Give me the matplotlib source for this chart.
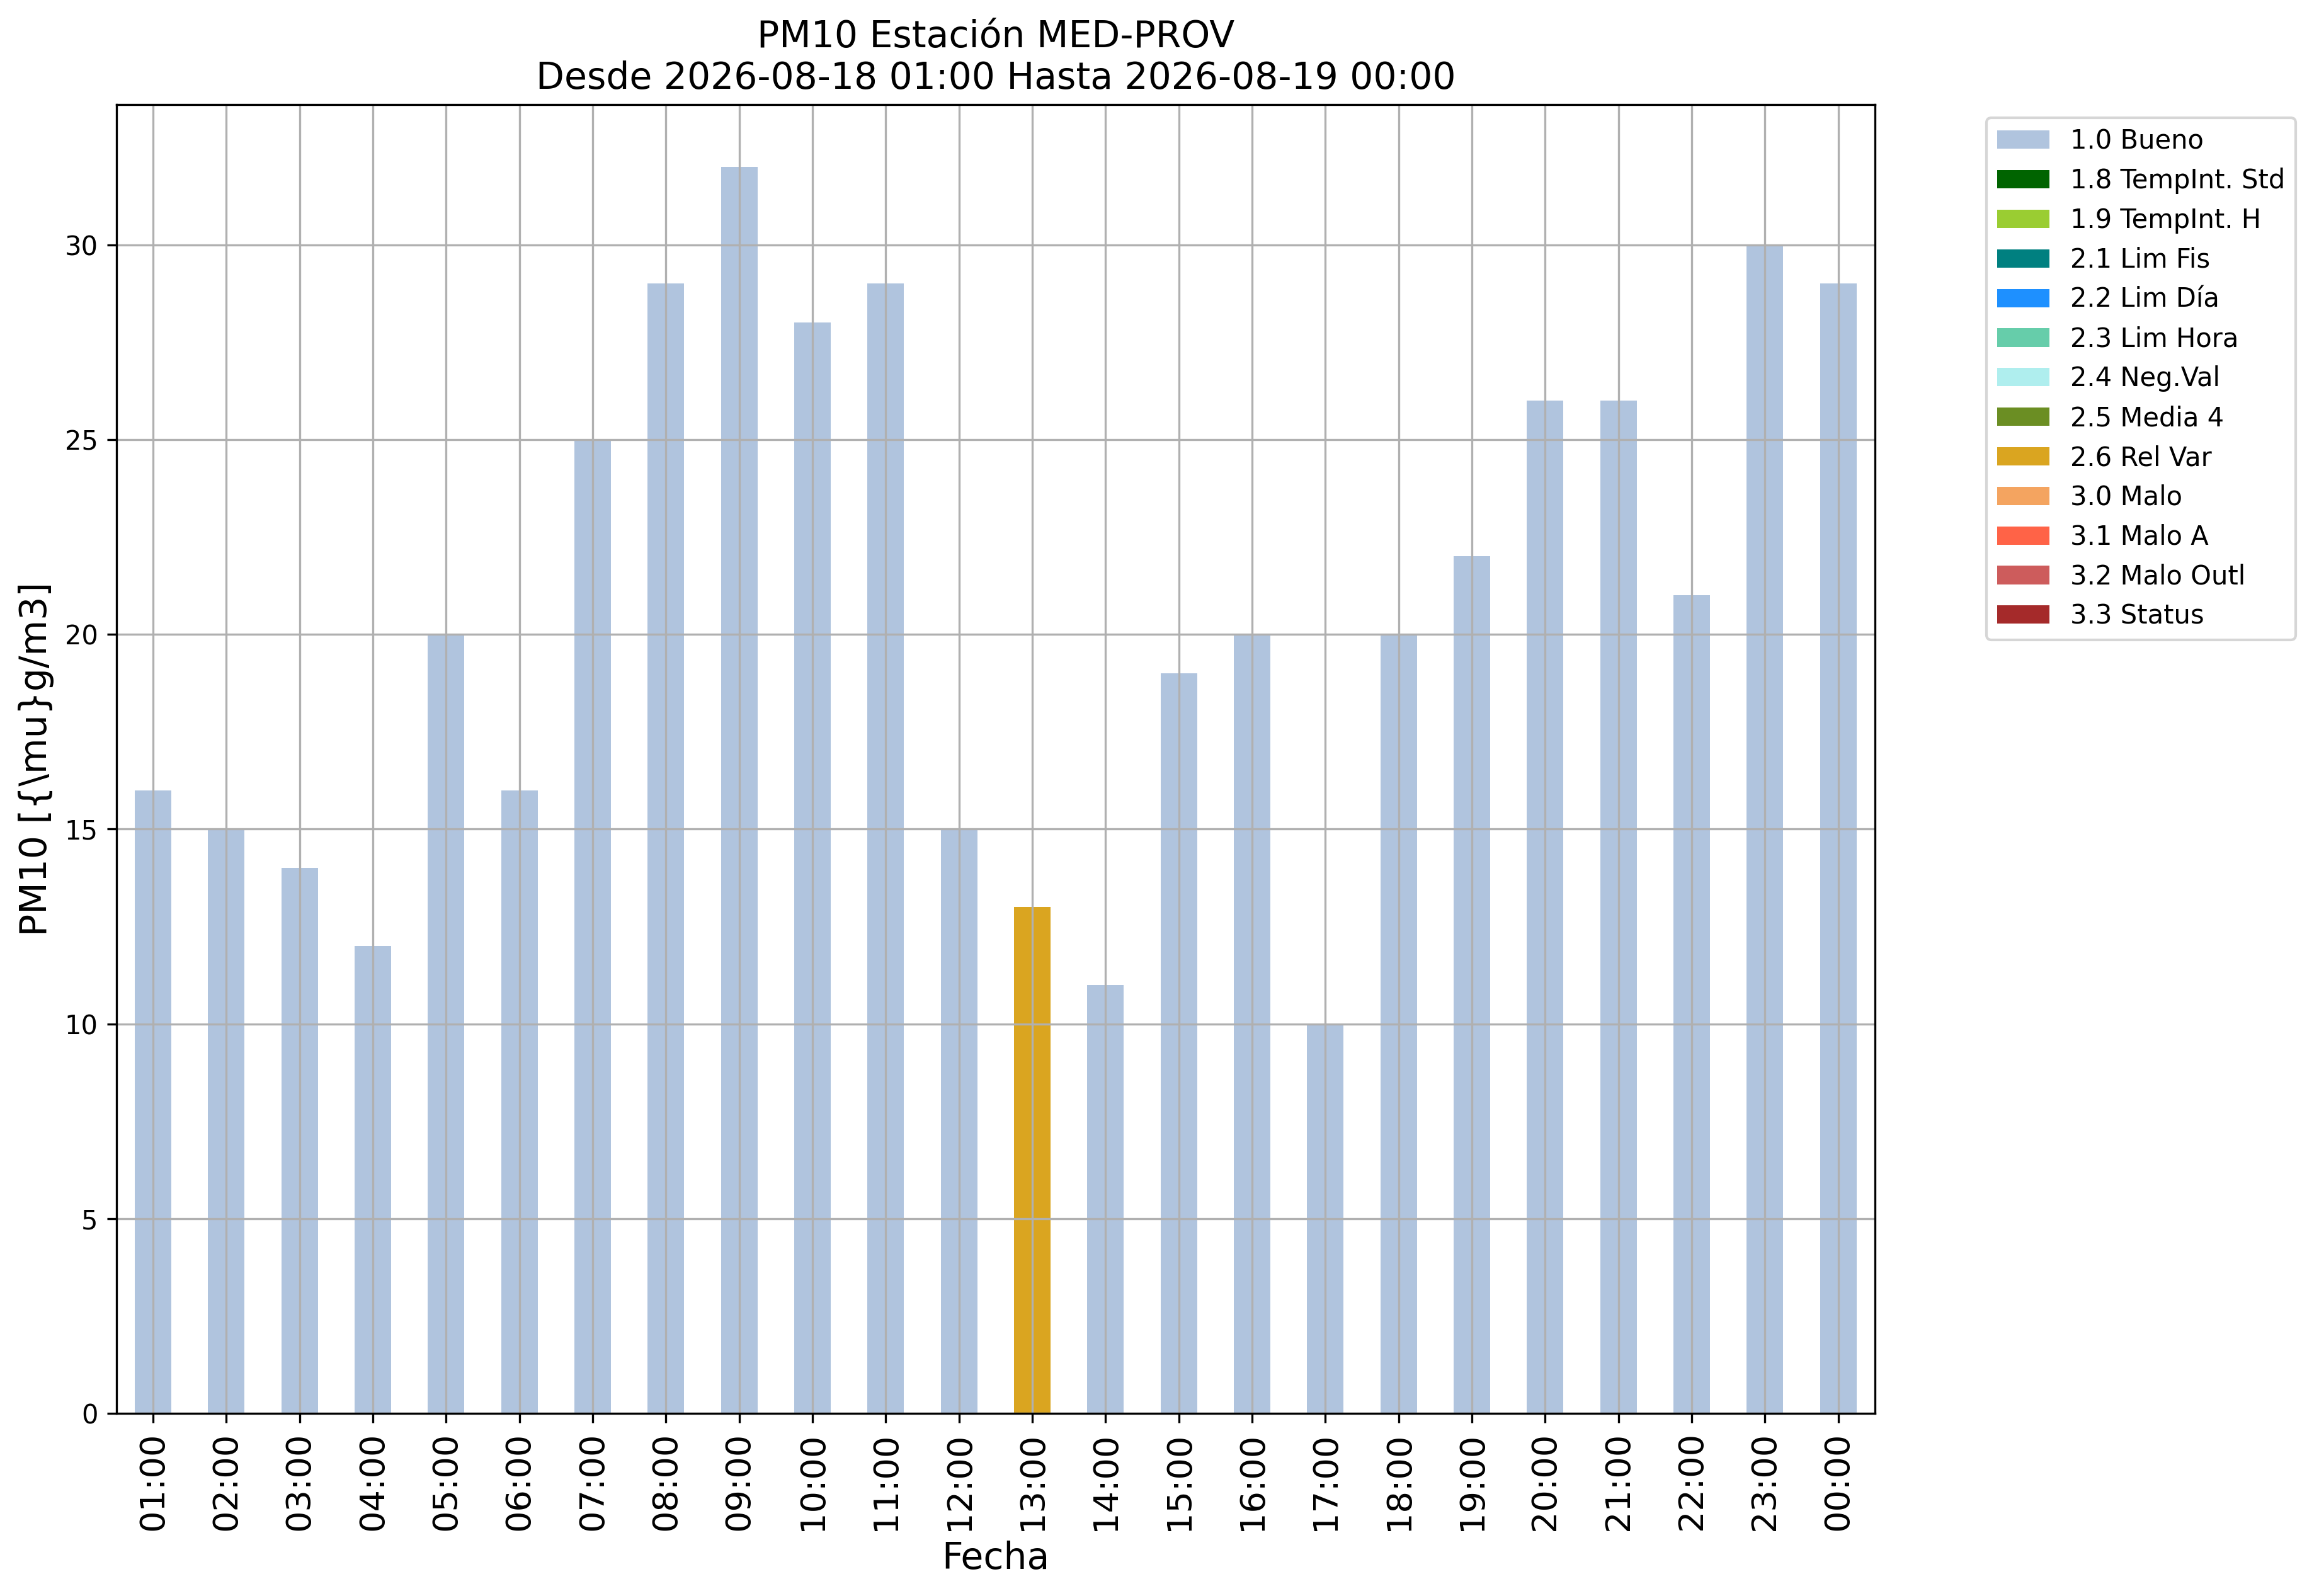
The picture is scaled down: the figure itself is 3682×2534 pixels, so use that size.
import matplotlib
matplotlib.use('Agg')
import matplotlib.pyplot as plt
import numpy as np
import pandas as pd

# Hourly labels and PM10 values
horas = ['01:00', '02:00', '03:00', '04:00', '05:00', '06:00', '07:00', '08:00',
         '09:00', '10:00', '11:00', '12:00', '13:00', '14:00', '15:00', '16:00',
         '17:00', '18:00', '19:00', '20:00', '21:00', '22:00', '23:00', '00:00']
pm10 = [16, 15, 14, 12, 20, 16, 25, 29, 32, 28, 29, 15,
        13, 11, 19, 20, 10, 20, 22, 26, 26, 21, 30, 29]
# validation flag for each hour
flags = ['1.0 Bueno'] * 12 + ['2.6 Rel Var'] + ['1.0 Bueno'] * 11

categorias = ['1.0 Bueno', '1.8 TempInt. Std', '1.9 TempInt. H', '2.1 Lim Fis',
              '2.2 Lim Día', '2.3 Lim Hora', '2.4 Neg.Val', '2.5 Media 4',
              '2.6 Rel Var', '3.0 Malo', '3.1 Malo A', '3.2 Malo Outl', '3.3 Status']
colores = ['lightsteelblue', 'darkgreen', 'yellowgreen', 'teal', 'dodgerblue',
           'mediumaquamarine', 'paleturquoise', 'olivedrab', 'goldenrod',
           'sandybrown', 'tomato', 'indianred', 'brown']


def main():
    df = pd.DataFrame(np.nan, index=horas, columns=categorias)
    for h, v, f in zip(horas, pm10, flags):
        df.loc[h, f] = v

    fig = plt.figure(figsize=(3682 / 300, 2534 / 300), dpi=300)
    ax = fig.add_axes([0.0502, 0.1144, 0.7583, 0.8201])
    df.plot(kind='bar', stacked=True, color=colores, ax=ax, legend=False)

    ax.set_title('PM10 Estación MED-PROV\nDesde 2026-08-18 01:00 Hasta 2026-08-19 00:00',
                 fontsize=14)
    ax.set_xlabel('Fecha', fontsize=14)
    ax.set_ylabel(r'PM10 [{\mu}g/m3]', fontsize=14)
    ax.tick_params(axis='x', labelsize=13, labelrotation=90)
    ax.tick_params(axis='y', labelsize=10)
    ax.grid(True)
    ax.legend(bbox_to_anchor=(1.056, 1), loc='upper left', fontsize=10)

    fig.savefig('out.png', dpi=300)
    plt.close(fig)


if __name__ == '__main__':
    main()
